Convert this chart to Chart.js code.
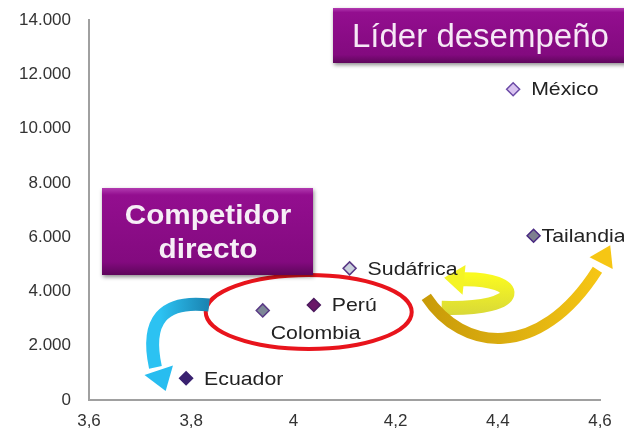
<!DOCTYPE html>
<html>
<head>
<meta charset="utf-8">
<script src="https://cdn.jsdelivr.net/npm/chart.js@4"></script>
<style>
  html, body { margin: 0; padding: 0; background: #fff; }
  #wrap { width: 624px; height: 436px; }
</style>
</head>
<body>
<div id="wrap"><canvas id="chart" width="624" height="436"></canvas></div>
<script>
// datos del gráfico
const countries = ["Ecuador", "Colombia", "Perú", "Sudáfrica", "México", "Tailandia"];
const xValues = [3.79, 3.94, 4.04, 4.11, 4.43, 4.47];
const yValues = [800, 3300, 3500, 4850, 11450, 6050];
const xTickValues = [3.6, 3.8, 4, 4.2, 4.4, 4.6];
const yTickValues = [0, 2000, 4000, 6000, 8000, 10000, 12000, 14000];
const boxLabels = ["Líder desempeño", "Competidor directo"];

const fillColors = ["#3a2270", "#7d8797", "#6a1868", "#c9d0dc", "#d9c3f0", "#7e8090"];
const borderColors = ["#3a2270", "#5a3a86", "#4c1a5e", "#5a3a86", "#6b4aa6", "#4a2a82"];

const FONT = "'Liberation Sans', Arial, sans-serif";

/**
 * Caja morada con degradado y sombra
 */
function purpleBox(ctx, x, y, w, h) {
    ctx.save();
    ctx.shadowColor = "rgba(0,0,0,0.45)";
    ctx.shadowBlur = 4;
    ctx.shadowOffsetX = 1;
    ctx.shadowOffsetY = 2;
    const g = ctx.createLinearGradient(0, y, 0, y + h);
    g.addColorStop(0, "#b23ab0");
    g.addColorStop(0.08, "#930e8f");
    g.addColorStop(0.85, "#830a7f");
    g.addColorStop(1, "#5e065b");
    ctx.fillStyle = g;
    ctx.fillRect(x, y, w, h);
    ctx.restore();
}

// texto algo ensanchado, como en la imagen original
function wideText(ctx, text, x, y, sx) {
    ctx.save();
    ctx.translate(x, y);
    ctx.scale(sx, 1);
    ctx.fillText(text, 0, 0);
    ctx.restore();
}

function arrowHead(ctx, tipX, tipY, angle, len, half, color) {
    ctx.save();
    ctx.translate(tipX, tipY);
    ctx.rotate(angle);
    ctx.beginPath();
    ctx.moveTo(0, 0);
    ctx.lineTo(-len, -half);
    ctx.lineTo(-len, half);
    ctx.closePath();
    ctx.fillStyle = color;
    ctx.fill();
    ctx.restore();
}

// decoraciones (elipse, flechas, cajas) y etiquetas de puntos
const decorations = {
    id: "decorations",
    beforeDatasetsDraw(chart) {
        const ctx = chart.ctx;
        const xs = chart.scales.x, ys = chart.scales.y;
        const px = v => xs.getPixelForValue(v);
        const py = v => ys.getPixelForValue(v);

        // elipse roja alrededor de Colombia / Perú
        ctx.save();
        ctx.beginPath();
        ctx.ellipse(px(4.03), py(3240), 103, 37, 0, 0, Math.PI * 2);
        ctx.strokeStyle = "#e8141c";
        ctx.lineWidth = 4;
        ctx.stroke();
        ctx.restore();

        // flecha azul
        ctx.save();
        let g = ctx.createLinearGradient(px(3.83), 0, px(3.74), 0);
        g.addColorStop(0, "#1b86b4");
        g.addColorStop(1, "#2cc2f2");
        ctx.strokeStyle = g;
        ctx.lineWidth = 13;
        ctx.beginPath();
        ctx.moveTo(px(3.835), py(3500));
        ctx.quadraticCurveTo(px(3.70), py(3800), px(3.73), py(1200));
        ctx.stroke();
        arrowHead(ctx, px(3.75), py(330), 1.25, 22, 15, "#28bdf0");
        ctx.restore();

        // flecha amarilla (vuelta)
        ctx.save();
        ctx.lineWidth = 14;
        g = ctx.createLinearGradient(0, py(3100), 0, py(4600));
        g.addColorStop(0, "#d8d838");
        g.addColorStop(1, "#fafa20");
        ctx.strokeStyle = g;
        ctx.beginPath();
        ctx.moveTo(px(4.29), py(3400));
        ctx.bezierCurveTo(px(4.46), py(3300), px(4.45), py(4500), px(4.33), py(4450));
        ctx.stroke();
        arrowHead(ctx, px(4.295), py(4500), Math.PI + 0.1, 20, 15, "#f4f424");
        ctx.restore();

        // flecha dorada grande
        ctx.save();
        g = ctx.createLinearGradient(px(4.25), 0, px(4.6), 0);
        g.addColorStop(0, "#c89a08");
        g.addColorStop(0.5, "#dcae10");
        g.addColorStop(1, "#f6c614");
        ctx.strokeStyle = g;
        ctx.lineWidth = 11;
        ctx.beginPath();
        ctx.moveTo(px(4.26), py(3800));
        ctx.bezierCurveTo(px(4.33), py(1800), px(4.48), py(1400), px(4.595), py(4800));
        ctx.stroke();
        arrowHead(ctx, px(4.62), py(5700), -1.1, 20, 13, "#f6c614");
        ctx.restore();
    },
    afterDatasetsDraw(chart) {
        const ctx = chart.ctx;
        const meta = chart.getDatasetMeta(0);
        ctx.save();
        ctx.font = "19px " + FONT;
        ctx.fillStyle = "#222";
        ctx.textBaseline = "middle";
        ctx.textAlign = "left";
        meta.data.forEach((pt, i) => {
            const name = countries[i];
            if (name === "Colombia") {
                wideText(ctx, name, pt.x + 8, pt.y + 23, 1.12);
            } else if (name === "Tailandia") {
                wideText(ctx, name, pt.x + 8, pt.y + 1, 1.12);
            } else {
                wideText(ctx, name, pt.x + 18, pt.y + 1, 1.12);
            }
        });
        ctx.restore();
    },
    afterDraw(chart) {
        const ctx = chart.ctx;
        // caja "Líder desempeño"
        purpleBox(ctx, 333, 8, 300, 55);
        ctx.save();
        ctx.fillStyle = "#f6e8f6";
        ctx.font = "33px " + FONT;
        ctx.textBaseline = "middle";
        ctx.textAlign = "left";
        ctx.fillText(boxLabels[0], 352, 38);
        ctx.restore();

        // caja "Competidor directo"
        purpleBox(ctx, 102, 188, 211, 87);
        ctx.save();
        ctx.fillStyle = "#f6eef6";
        ctx.font = "bold 27px " + FONT;
        ctx.textBaseline = "middle";
        ctx.textAlign = "center";
        const words = boxLabels[1].split(" ");
        wideText(ctx, words[0], 208, 217, 1.1);
        wideText(ctx, words[1], 208, 251, 1.1);
        ctx.restore();
    }
};

const ctx = document.getElementById("chart").getContext("2d");
new Chart(ctx, {
    type: "scatter",
    data: {
        labels: countries,
        datasets: [{
            data: xValues.map((x, i) => ({ x: x, y: yValues[i] })),
            pointStyle: "rectRot",
            pointRadius: 6.5,
            pointHoverRadius: 6.5,
            pointBackgroundColor: fillColors,
            pointBorderColor: borderColors,
            pointBorderWidth: 1.5,
        }],
    },
    options: {
        responsive: false,
        animation: false,
        layout: { padding: { top: 20, right: 24, left: 0, bottom: 0 } },
        plugins: {
            legend: { display: false },
            tooltip: { enabled: false },
        },
        scales: {
            x: {
                type: "linear",
                min: 3.6,
                max: 4.6,
                afterBuildTicks: axis => { axis.ticks = xTickValues.map(v => ({ value: v })); },
                ticks: {
                    callback: v => String(Math.round(v * 10) / 10).replace(".", ","),
                    font: { family: FONT, size: 17 },
                    color: "#333",
                    padding: 11,
                    maxRotation: 0,
                },
                grid: { display: false, drawTicks: false },
                border: { color: "#a0a0a0", width: 2 },
                afterFit: axis => { axis.height = 36; },
            },
            y: {
                min: 0,
                max: 14000,
                afterBuildTicks: axis => { axis.ticks = yTickValues.map(v => ({ value: v })); },
                ticks: {
                    callback: v => v.toLocaleString("de-DE"),
                    font: { family: FONT, size: 17 },
                    color: "#333",
                    padding: 2,
                },
                grid: { display: false, drawTicks: true, tickLength: 16, color: "rgba(0,0,0,0)" },
                border: { color: "#a0a0a0", width: 2 },
                afterFit: axis => { axis.width = 89; },
            },
        },
    },
    plugins: [decorations],
});
</script>
</body>
</html>
